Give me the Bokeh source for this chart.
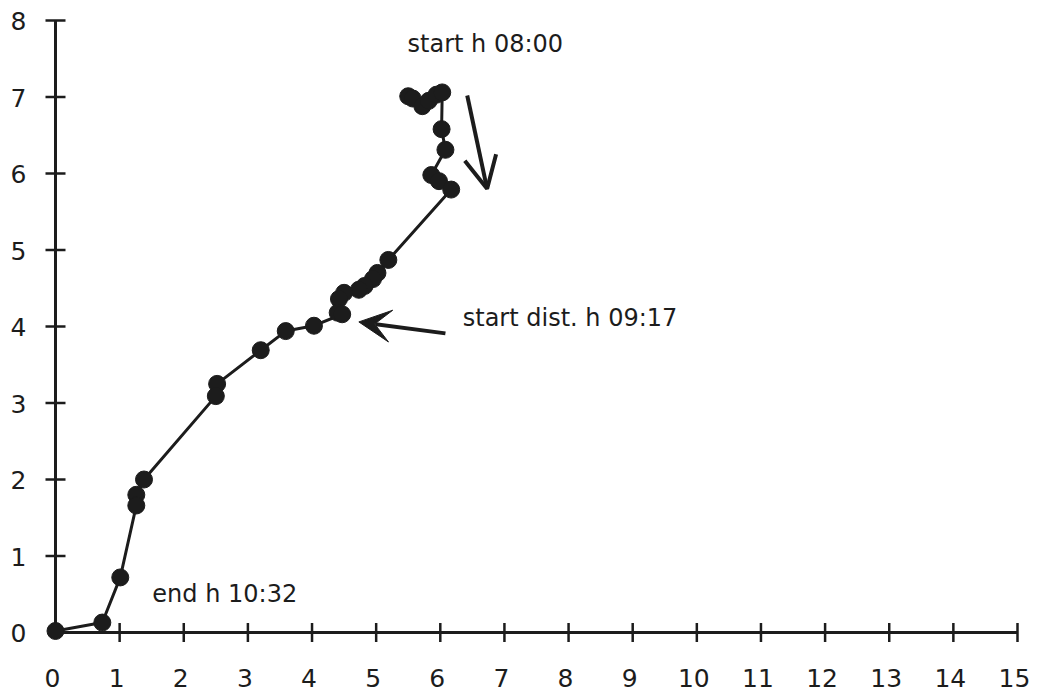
import math
from bokeh.plotting import figure
from bokeh.models import Range1d, Arrow, OpenHead, VeeHead, ColumnDataSource
from bokeh.core.properties import value
from bokeh.embed import file_html
from bokeh.resources import INLINE

# Path of the track (start at top, end at origin)
track_x = [5.50, 5.57, 5.72, 5.82, 5.94, 6.03, 6.02, 6.08, 5.86, 5.98, 6.17,
           5.19, 5.02, 4.95, 4.82, 4.73, 4.50, 4.42, 4.40, 4.47, 4.03,
           3.59, 3.20, 2.52, 2.50, 1.38, 1.26, 1.26, 1.01, 0.73, 0.00]
track_y = [7.01, 6.98, 6.88, 6.95, 7.03, 7.06, 6.58, 6.31, 5.98, 5.90, 5.79,
           4.87, 4.70, 4.62, 4.53, 4.48, 4.44, 4.36, 4.18, 4.16, 4.01,
           3.94, 3.69, 3.25, 3.09, 2.00, 1.80, 1.66, 0.72, 0.13, 0.02]

x_ticks = list(range(0, 16))
y_ticks = list(range(0, 9))
x_tick_labels = [str(t) for t in x_ticks]
y_tick_labels = [str(t) for t in y_ticks]

note_text = ["start h 08:00", "start dist. h 09:17", "end h 10:32"]
note_x = [5.49, 6.35, 1.51]
note_y = [7.57, 3.99, 0.38]

# arrows: (x_start, y_start, x_end, y_end)
arrow_down = (6.42, 7.02, 6.73, 5.80)
arrow_left = (6.08, 3.91, 4.73, 4.06)

FONT = "DejaVu Sans"
INK = "#1c1c1c"

W, H = 1040, 695
PX_X, PX_Y = 64.133, 76.5          # pixels per unit
X0 = -55 / PX_X
Y1 = y_ticks[-1] + 20 / PX_Y

p = figure(width=W, height=H, title=None, output_backend="svg", toolbar_location=None,
           x_axis_location=None, y_axis_location=None,
           x_range=Range1d(X0, X0 + W / PX_X), y_range=Range1d(Y1 - H / PX_Y, Y1),
           min_border=0)
p.outline_line_color = None
p.grid.visible = False
p.background_fill_color = "white"

# axes (drawn from the tick lists)
p.segment(x0=[x_ticks[0], x_ticks[0]], y0=[y_ticks[0], y_ticks[0]],
          x1=[x_ticks[-1], x_ticks[0]], y1=[y_ticks[0], y_ticks[-1]],
          line_width=3, line_color=INK)
p.scatter(x=x_ticks[1:], y=[y_ticks[0]] * (len(x_ticks) - 1), marker="dash", size=19,
          angle=math.pi / 2, line_width=2.5, line_color=INK)
p.scatter(x=[x_ticks[0]] * (len(y_ticks) - 1), y=y_ticks[1:], marker="dash", size=20,
          line_width=2.5, line_color=INK)
p.text(x=x_ticks, y=[y_ticks[0]] * len(x_ticks), text=x_tick_labels,
       x_offset=-3, y_offset=45, text_align="center", text_baseline="alphabetic",
       text_font=value(FONT), text_font_size="25px", text_color=INK)
p.text(x=[x_ticks[0]] * len(y_ticks), y=y_ticks, text=y_tick_labels,
       x_offset=-29, y_offset=0.5, text_align="right", text_baseline="alphabetic",
       text_font=value(FONT), text_font_size="25px", text_color=INK)

src = ColumnDataSource(dict(x=track_x, y=track_y))
p.line("x", "y", source=src, line_width=3, line_color=INK)
p.scatter("x", "y", source=src, size=17, fill_color=INK, line_color=INK, line_width=1)

p.text(x=note_x, y=note_y, text=note_text, text_font=value(FONT), text_font_size="24px",
       y_offset=-9, text_color=INK, text_align="left", text_baseline="alphabetic")

p.add_layout(Arrow(end=OpenHead(size=32, line_width=4, line_color=INK),
                   x_start=arrow_down[0], y_start=arrow_down[1],
                   x_end=arrow_down[2], y_end=arrow_down[3],
                   line_width=4, line_color=INK))
p.add_layout(Arrow(end=VeeHead(size=32, fill_color=INK, line_color=INK),
                   x_start=arrow_left[0], y_start=arrow_left[1],
                   x_end=arrow_left[2], y_end=arrow_left[3],
                   line_width=4, line_color=INK))

open("out.html", "w").write(file_html(p, INLINE))
